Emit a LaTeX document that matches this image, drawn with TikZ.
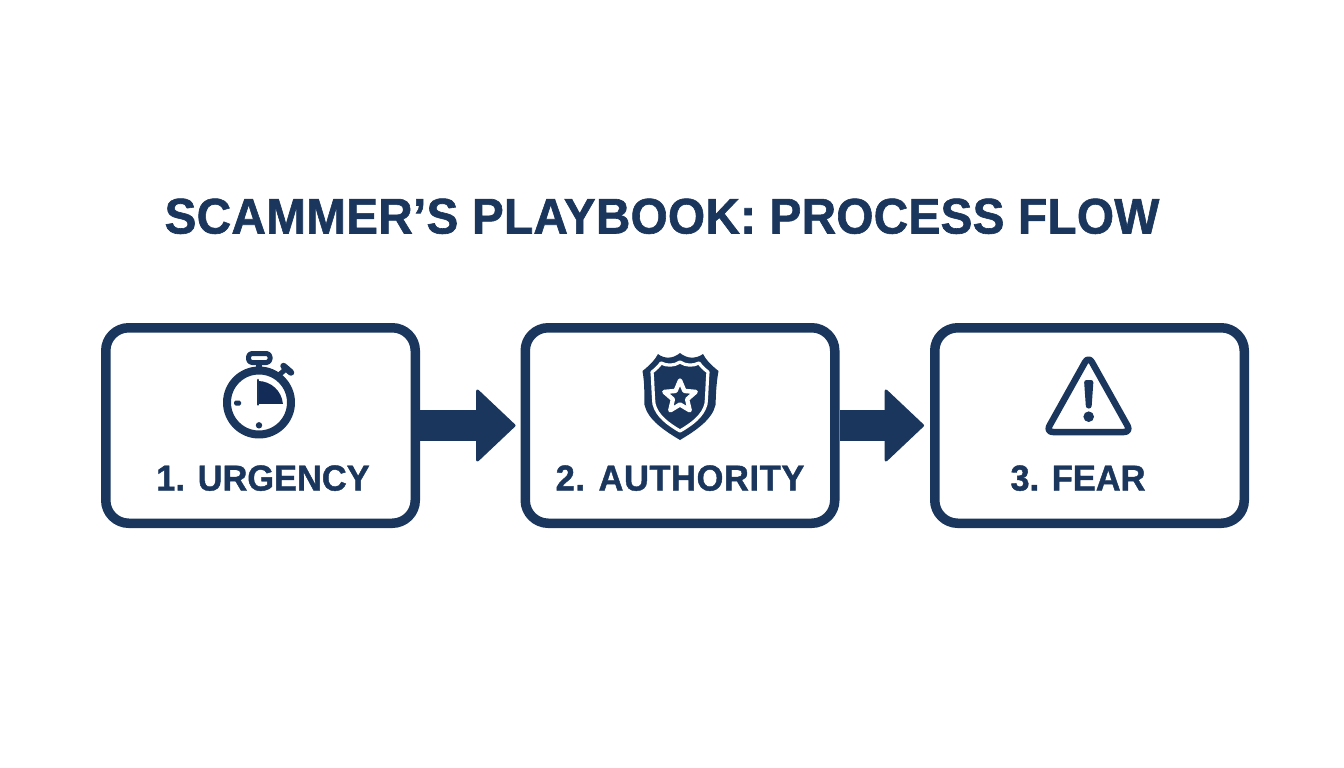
\documentclass[tikz,border=0pt]{standalone}
\usepackage{fontspec}
\setmainfont[BoldFeatures={FakeBold=1.2,FakeStretch=0.955}]{Liberation Sans}
\usetikzlibrary{calc,shapes.geometric}
\definecolor{navy}{HTML}{1A365D}
\definecolor{navydeep}{HTML}{122B57}
\tikzset{
  x=1pt,y=-1pt,
  stepbox/.style={draw=navy,line width=9.5pt,rounded corners=23pt,fill=white,minimum width=309.5pt,minimum height=195.5pt,inner sep=0pt},
  flowarrow/.style={fill=navy,draw=navy,line width=3pt,line join=round},
  steplabel/.style={text=navy,font=\fontsize{36}{36}\selectfont\bfseries,inner sep=0pt,anchor=base},
  titlelabel/.style={text=navy,font=\fontsize{50}{50}\selectfont\bfseries\addfontfeature{LetterSpace=0.5},inner sep=0pt,anchor=base},
  icon/.style={draw=navy,line join=round,line cap=round},
}
\begin{document}
\begin{tikzpicture}
\useasboundingbox (0,0) rectangle (1344,768);
\fill[white] (0,0) rectangle (1344,768);
\node[titlelabel] (title) at (662,233.5) {SCAMMER’S PLAYBOOK: PROCESS FLOW};
\node[stepbox] (b1) at (260.5,425.5) {};
\node[stepbox] (b2) at (680,425.5) {};
\node[stepbox] (b3) at (1089.5,425.5) {};
\node[steplabel] (l1) at (263,490.5) {1. URGENCY};
\node[steplabel] (l2) at (680,490.5) {\addfontfeature{LetterSpace=1.8}2. AUTHORITY};
\node[steplabel] (l3) at (1078,490.5) {3. FEAR};
% arrows
\fill[navy] ($(b1.east)+(0,-15.5)$) -- ++(60,0) -- ++(0,31) -- ++(-60,0) -- cycle;
\draw[flowarrow] ($(b2.west)+(-6.5,0)$) -- ++(-36.5,-34.5) -- ++(0,69) -- cycle;
\fill[navy] ($(b2.east)+(0,-15.5)$) -- ++(50,0) -- ++(0,31) -- ++(-50,0) -- cycle;
\draw[flowarrow] ($(b3.west)+(-7.5,0)$) -- ++(-36.5,-34.5) -- ++(0,69) -- cycle;
% stopwatch
\draw[icon,line width=8pt] (259,402.5) circle (32);
\draw[icon,line width=5pt,rounded corners=3.5pt] (248.5,353.5) rectangle (270,362.5);
\draw[icon,line width=6pt,line cap=butt] (259,363) -- (259,369);
\draw[icon,line width=5pt,line cap=butt] (279,375) -- (287,368);
\draw[icon,line width=6.5pt,line cap=round] (283.5,366) -- (291,372.5);
\fill[navydeep] (258,404) -- (258,381) arc[start angle=-90,delta angle=85,radius=25] -- cycle;
\draw[navy,line width=2.6pt,line cap=round] (258,380) -- (258,404.5);
\fill[navy,rounded corners=1.5pt] (234.2,400.5) rectangle (241,405.5);
\fill[navy] (259,425.3) circle (3.2);
% shield
\fill[navy] (642.5,371) .. controls (650,365) and (655,360) .. (658,354)
  .. controls (664,359) and (673,359) .. (680,353)
  .. controls (687,359) and (696,359) .. (703,354)
  .. controls (706,360) and (711,365) .. (718.5,371)
  .. controls (716,385) and (716,395) .. (715.5,405)
  .. controls (712,420) and (695,431) .. (680,440)
  .. controls (665,431) and (648,420) .. (644.5,405)
  .. controls (644,395) and (645,385) .. (642.5,371) -- cycle;
\draw[white,line width=3.2pt,line join=round] (652,372) .. controls (656,369) and (659,366) .. (661,363)
  .. controls (667,366) and (674,366) .. (680,362)
  .. controls (686,366) and (693,366) .. (699,363)
  .. controls (701,366) and (704,369) .. (708,372)
  .. controls (707,383) and (707,394) .. (706,404)
  .. controls (703,416) and (692,424) .. (680,431)
  .. controls (668,424) and (657,416) .. (654,404)
  .. controls (653,394) and (653,383) .. (652,372) -- cycle;
\node[star,star points=5,star point ratio=2.2,draw=white,fill=navy,line width=4.4pt,minimum size=33pt,inner sep=0pt,line join=round] (badge) at (680,397) {};
% warning triangle
\draw[icon,line width=6.5pt,rounded corners=7pt] (1088.5,356) -- (1046,432) -- (1131,432) -- cycle;
\fill[navy,rounded corners=2.5pt] (1084,380) -- (1093.5,380) -- (1091.5,408.5) -- (1086,408.5) -- cycle;
\fill[navy] (1088.7,416.7) circle (5.3);
\end{tikzpicture}
\end{document}
